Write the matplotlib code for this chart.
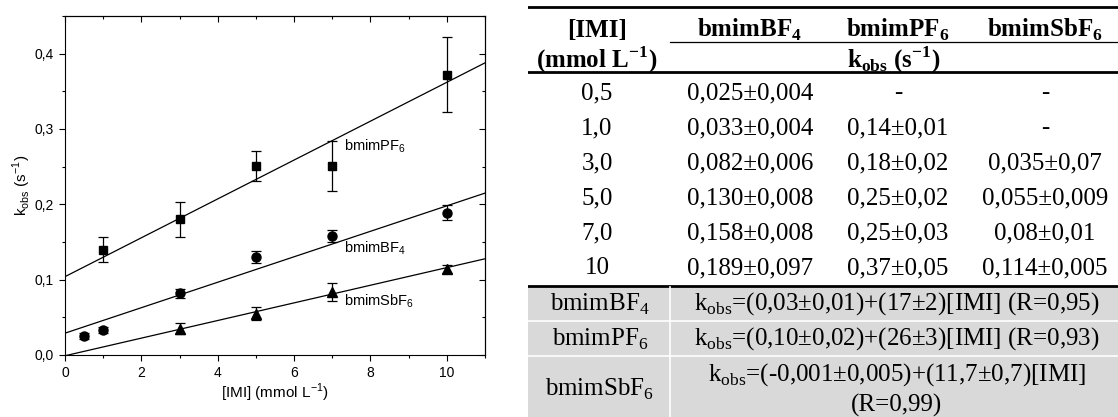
import numpy as np
import matplotlib
matplotlib.use("Agg")
import matplotlib.pyplot as plt
from matplotlib.ticker import MultipleLocator, FuncFormatter

# Data (x in mmol L-1, kobs in s-1)
x_bf4 = [0.5, 1, 3, 5, 7, 10]
k_bf4 = [0.025, 0.033, 0.082, 0.130, 0.158, 0.189]
e_bf4 = [0.004, 0.004, 0.006, 0.008, 0.008, 0.010]

x_pf6 = [1, 3, 5, 7, 10]
k_pf6 = [0.140, 0.180, 0.251, 0.251, 0.372]
e_pf6 = [0.016, 0.023, 0.020, 0.033, 0.050]

x_sbf6 = [3, 5, 7, 10]
k_sbf6 = [0.035, 0.055, 0.084, 0.114]
e_sbf6 = [0.007, 0.009, 0.012, 0.005]

# Linear fits kobs = a + b*[IMI]
fit_bf4 = (0.029, 0.0169)
fit_pf6 = (0.104, 0.0258)
fit_sbf6 = (-0.001, 0.0117)

# Table contents
col_headers = ["[IMI]", "bmimBF$_\\mathregular{4}$", "bmimPF$_\\mathregular{6}$",
               "bmimSbF$_\\mathregular{6}$"]
imi_labels = ["0,5", "1,0", "3,0", "5,0", "7,0", "10"]
bf4_cells = ["0,025±0,004", "0,033±0,004", "0,082±0,006", "0,130±0,008",
             "0,158±0,008", "0,189±0,097"]
pf6_cells = ["-", "0,14±0,01", "0,18±0,02", "0,25±0,02", "0,25±0,03", "0,37±0,05"]
sbf6_cells = ["-", "-", "0,035±0,07", "0,055±0,009", "0,08±0,01", "0,114±0,005"]
fit_names = ["bmimBF$_\\mathregular{4}$", "bmimPF$_\\mathregular{6}$",
             "bmimSbF$_\\mathregular{6}$"]
fit_eqs = ["k$_\\mathregular{obs}$=(0,03±0,01)+(17±2)[IMI] (R=0,95)",
           "k$_\\mathregular{obs}$=(0,10±0,02)+(26±3)[IMI] (R=0,93)",
           "k$_\\mathregular{obs}$=(-0,001±0,005)+(11,7±0,7)[IMI]\n(R=0,99)"]

plt.rcParams['font.family'] = ['Liberation Sans', 'DejaVu Sans']

fig = plt.figure(figsize=(11.18, 4.17), dpi=100)
W, H = 1118, 417

# ---------------- plot ----------------
ax = fig.add_axes([65 / W, 1 - 355 / H, 420 / W, 339 / H])
xx = np.array([0, 11])
style = dict(color='black', ecolor='black', linestyle='none', elinewidth=0.9,
             capsize=3.5, capthick=0.9)
ax.errorbar(x_pf6, k_pf6, yerr=e_pf6, marker='s', markersize=6, **style)
ax.errorbar(x_bf4, k_bf4, yerr=e_bf4, marker='o', markersize=6.5, **style)
ax.errorbar(x_sbf6, k_sbf6, yerr=e_sbf6, marker='^', markersize=7, **style)
for a, b in (fit_pf6, fit_bf4, fit_sbf6):
    ax.plot(xx, a + b * xx, color='black', linewidth=0.9)

ax.text(7.3, 0.277, "bmimPF$_\\mathregular{6}$", fontsize=10.5, va='center')
ax.text(7.3, 0.142, "bmimBF$_\\mathregular{4}$", fontsize=10.5, va='center')
ax.text(7.3, 0.071, "bmimSbF$_\\mathregular{6}$", fontsize=10.5, va='center')

ax.set_xlim(0, 11)
ax.set_ylim(0, 0.45)
ax.xaxis.set_major_locator(MultipleLocator(2))
ax.xaxis.set_minor_locator(MultipleLocator(1))
ax.yaxis.set_major_locator(MultipleLocator(0.1))
ax.yaxis.set_minor_locator(MultipleLocator(0.05))
ax.yaxis.set_major_formatter(FuncFormatter(lambda v, p: f"{v:.1f}".replace(".", ",")))
ax.tick_params(which='both', direction='out', labelsize=10, width=0.8)
ax.tick_params(which='major', length=4.5)
ax.tick_params(which='minor', length=2.5)

# mirrored ticks pointing inward on top and right
top = ax.secondary_xaxis('top')
top.xaxis.set_major_locator(MultipleLocator(2))
top.xaxis.set_minor_locator(MultipleLocator(1))
top.tick_params(which='both', direction='in', labeltop=False, width=0.8)
top.tick_params(which='major', length=4.5)
top.tick_params(which='minor', length=2.5)
right = ax.secondary_yaxis('right')
right.yaxis.set_major_locator(MultipleLocator(0.1))
right.yaxis.set_minor_locator(MultipleLocator(0.05))
right.tick_params(which='both', direction='in', labelright=False, width=0.8)
right.tick_params(which='major', length=4.5)
right.tick_params(which='minor', length=2.5)

ax.set_xlabel("[IMI] (mmol L$^\\mathregular{-1}$)", fontsize=11, labelpad=1)
ax.set_ylabel("k$_\\mathregular{obs}$ (s$^\\mathregular{-1}$)", fontsize=11, labelpad=1)

# ---------------- table ----------------
tx = fig.add_axes([528 / W, 0, 590 / W, 1])
tx.set_xlim(528, 1118)
tx.set_ylim(417, 0)
tx.axis('off')

serif = ['Liberation Serif', 'DejaVu Serif']
fs = 18
col_x = [597, 750, 898, 1045]
row_y0, row_dy = 93, 35

tx.axhline(7, color='black', linewidth=2)
tx.plot([670, 1118], [42, 42], color='black', linewidth=0.9)
tx.axhline(72, color='black', linewidth=2)
tx.axhline(286, color='black', linewidth=2)

for xc, h in zip(col_x, col_headers):
    tx.text(xc, 30, h, family=serif, fontsize=fs, fontweight='bold', ha='center', va='center')
tx.text(col_x[0], 60, "(mmol L$^\\mathregular{-1}$)", family=serif, fontsize=fs,
        fontweight='bold', ha='center', va='center')
tx.text(894, 60, "k$_\\mathregular{obs}$ (s$^\\mathregular{-1}$)", family=serif, fontsize=fs,
        fontweight='bold', ha='center', va='center')

for i, row in enumerate(zip(imi_labels, bf4_cells, pf6_cells, sbf6_cells)):
    for xc, s in zip(col_x, row):
        tx.text(xc, row_y0 + i * row_dy, s, family=serif, fontsize=fs,
                ha='center', va='center')

# grey fit block
tx.fill_between([528, 1118], 287, 417, color='#d9d9d9', linewidth=0)
tx.plot([528, 1118], [321, 321], color='white', linewidth=1.2)
tx.plot([528, 1118], [356, 356], color='white', linewidth=1.2)
tx.plot([670, 670], [287, 417], color='white', linewidth=1.2)
fit_y = [304, 339, 389]
for name, eq, yc in zip(fit_names, fit_eqs, fit_y):
    tx.text(600, yc, name, family=serif, fontsize=fs, ha='center', va='center')
    tx.text(897, yc, eq, family=serif, fontsize=fs, ha='center', va='center',
            linespacing=1.3)

fig.savefig("out.png", dpi=100)
